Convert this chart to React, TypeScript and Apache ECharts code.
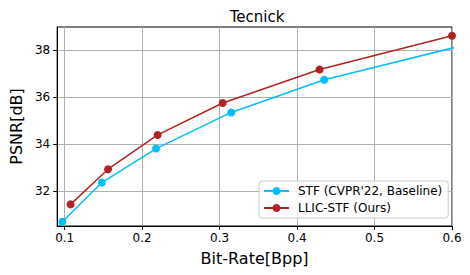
import React, { useEffect, useRef } from "react";
import * as echarts from "echarts";

const titleText = "Tecnick";
const xName = "Bit-Rate[Bpp]";
const yName = "PSNR[dB]";
const xTicks = [0.1, 0.2, 0.3, 0.4, 0.5, 0.6];
const yTicks = [32, 34, 36, 38];
const stfName = "STF (CVPR'22, Baseline)";
const llicName = "LLIC-STF (Ours)";
const stfRate = [0.097, 0.148, 0.218, 0.315, 0.435, 0.66];
const stfPsnr = [30.7, 32.37, 33.82, 35.36, 36.75, 38.59];
const llicRate = [0.1076, 0.156, 0.22, 0.304, 0.429, 0.6];
const llicPsnr = [31.44, 32.94, 34.4, 35.76, 37.19, 38.63];

const FONT = "DejaVu Sans";

export default function App() {
  const ref = useRef<HTMLDivElement>(null);
  useEffect(() => {
    document.body.style.margin = "0";
    const chart = echarts.init(ref.current!, null, { renderer: "svg" });
    const axisLine = { show: true, lineStyle: { color: "#000", width: 1 } };
    chart.setOption({
      animation: false,
      backgroundColor: "#fff",
      title: {
        text: titleText,
        left: 252,
        textAlign: "center",
        top: 4,
        textStyle: { fontFamily: FONT, fontSize: 15, fontWeight: "normal", color: "#000" },
      },
      grid: { left: 52, right: 18, top: 27, bottom: 49, show: true, borderColor: "#000", borderWidth: 1, backgroundColor: "transparent" },
      legend: {
        left: 259,
        top: 181,
        orient: "vertical",
        backgroundColor: "rgba(255,255,255,0.85)",
        borderColor: "#cccccc",
        borderWidth: 1,
        borderRadius: 3,
        padding: [4, 6, 4, 4],
        itemWidth: 25,
        itemHeight: 10,
        itemGap: 5,
        textStyle: { fontFamily: FONT, fontSize: 12, color: "#000", padding: [0, 0, 0, 4] },
        data: [stfName, llicName],
      },
      xAxis: {
        type: "value",
        min: 0.0903,
        max: 0.6,
        name: xName,
        nameLocation: "middle",
        nameGap: 24,
        nameTextStyle: { fontFamily: FONT, fontSize: 16, color: "#000" },
        axisLine,
        axisTick: { show: true, length: 4, inside: false, customValues: xTicks, lineStyle: { color: "#000" } },
        axisLabel: {
          customValues: xTicks,
          fontFamily: FONT,
          fontSize: 12,
          color: "#000",
          margin: 6,
          formatter: (v: number) => v.toFixed(1),
        },
        splitLine: { show: true, lineStyle: { color: "#b0b0b0", width: 1 } },
      },
      yAxis: {
        type: "value",
        min: 30.52,
        max: 39.0,
        name: yName,
        nameLocation: "middle",
        nameGap: 30,
        nameTextStyle: { fontFamily: FONT, fontSize: 16, color: "#000" },
        axisLine,
        axisTick: { show: true, length: 4, inside: false, customValues: yTicks, lineStyle: { color: "#000" } },
        axisLabel: {
          customValues: yTicks,
          fontFamily: FONT,
          fontSize: 12,
          color: "#000",
          margin: 7,
          formatter: (v: number) => String(Math.round(v)),
        },
        splitLine: { show: true, lineStyle: { color: "#b0b0b0", width: 1 } },
      },
      series: [
        {
          name: stfName,
          type: "line",
          clip: true,
          data: stfRate.map((x, i) => [x, stfPsnr[i]]),
          color: "#00bfff",
          symbol: "circle",
          symbolSize: 8,
          lineStyle: { width: 1.5, color: "#00bfff" },
          itemStyle: { color: "#00bfff" },
          z: 3,
        },
        {
          name: llicName,
          type: "line",
          clip: true,
          data: llicRate.map((x, i) => [x, llicPsnr[i]]),
          color: "#b22222",
          symbol: "circle",
          symbolSize: 8,
          lineStyle: { width: 1.5, color: "#b22222" },
          itemStyle: { color: "#b22222" },
          z: 4,
        },
      ],
    });
    return () => chart.dispose();
  }, []);
  return <div ref={ref} style={{ width: 470, height: 275 }} />;
}
